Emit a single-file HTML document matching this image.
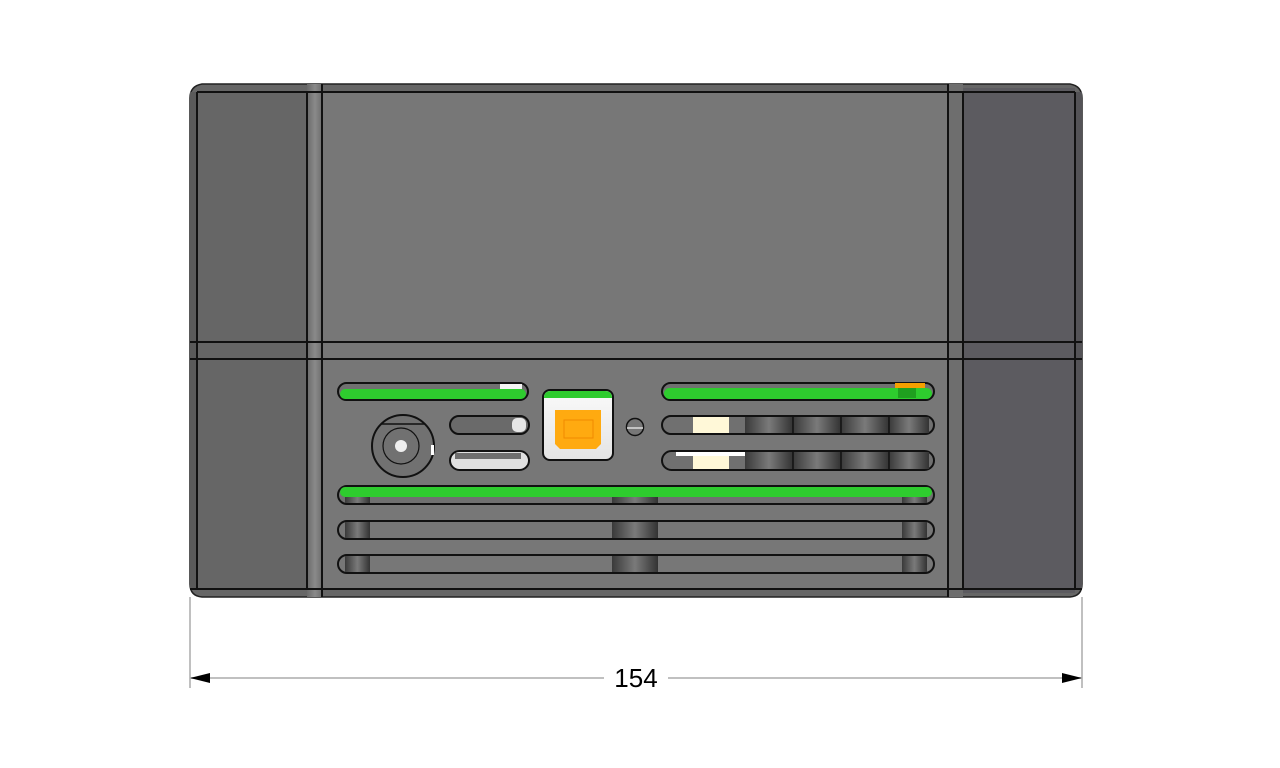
<!DOCTYPE html>
<html><head><meta charset="utf-8"><style>
html,body{margin:0;padding:0;background:#fff;width:1280px;height:768px;overflow:hidden}
svg{display:block}
</style></head><body>
<svg width="1280" height="768" viewBox="0 0 1280 768" xmlns="http://www.w3.org/2000/svg">
<defs>
<linearGradient id="strip" x1="0" x2="1" y1="0" y2="0">
<stop offset="0" stop-color="#6a6a6a"/><stop offset="0.5" stop-color="#8a8a8a"/><stop offset="1" stop-color="#6a6a6a"/></linearGradient>
<linearGradient id="sh" x1="0" x2="1"><stop offset="0" stop-color="#3a3a3a"/><stop offset="0.5" stop-color="#7a7a7a"/><stop offset="1" stop-color="#333"/></linearGradient>
<linearGradient id="usb" x1="0" x2="0" y1="0" y2="1"><stop offset="0" stop-color="#fafafa"/><stop offset="1" stop-color="#e4e4e4"/></linearGradient>
</defs>
<!-- dimension -->
<g stroke="#c0c0c0" stroke-width="2" fill="none">
<line x1="190" y1="597" x2="190" y2="688"/>
<line x1="1082" y1="597" x2="1082" y2="688"/>
<line x1="190" y1="678" x2="604" y2="678"/>
<line x1="668" y1="678" x2="1082" y2="678"/>
</g>
<polygon points="190,678 210,673 210,683" fill="#000"/>
<polygon points="1082,678 1062,673 1062,683" fill="#000"/>
<text x="636" y="687" font-family="Liberation Sans, sans-serif" font-size="26" text-anchor="middle" fill="#000">154</text>

<!-- body -->
<path d="M202,84 L1070,84 Q1082,86 1082,98 L1082,584 Q1082,596 1070,597 L202,597 Q190,596 190,584 L190,98 Q190,86 202,84Z" fill="#666" stroke="#222" stroke-width="1.5"/>
<rect x="197" y="91" width="110" height="497" fill="#666"/>
<rect x="307" y="84" width="16" height="513" fill="url(#strip)"/>
<rect x="323" y="91" width="625" height="497" fill="#777"/>
<rect x="948" y="84" width="15" height="513" fill="#6e6e6e"/>
<rect x="963" y="88" width="112" height="505" fill="#5c5b60"/>
<rect x="1075" y="92" width="7" height="496" fill="#545357"/>
<rect x="190" y="92" width="7" height="496" fill="#5a5a5a"/>
<g stroke="#111" stroke-width="2" fill="none">
<line x1="197" y1="92" x2="197" y2="590"/>
<line x1="307" y1="92" x2="307" y2="590"/>
<line x1="322" y1="84" x2="322" y2="597"/>
<line x1="948" y1="84" x2="948" y2="597"/>
<line x1="963" y1="92" x2="963" y2="590"/>
<line x1="1075" y1="92" x2="1075" y2="590"/>
<line x1="190" y1="342" x2="1082" y2="342"/>
<line x1="190" y1="359" x2="1082" y2="359"/>
<line x1="197" y1="92" x2="1075" y2="92"/>
<line x1="190" y1="589" x2="1082" y2="589"/>
</g>

<!-- slots -->
<g stroke="#111" stroke-width="2">
<!-- row1 left -->
<rect x="338" y="383" width="190" height="17" rx="8.5" fill="#707070"/>
<rect x="340" y="389" width="186" height="10" rx="5" fill="#2ecc2e" stroke="none"/>
<rect x="500" y="384" width="22" height="5" fill="#f4f4f4" stroke="none"/>
<!-- row1 right -->
<rect x="662" y="383" width="272" height="17" rx="8.5" fill="#707070"/>
<rect x="664" y="388" width="268" height="11" rx="5.5" fill="#2ecc2e" stroke="none"/>
<rect x="895" y="383" width="30" height="5" fill="#f5a000" stroke="none"/>
<rect x="898" y="388" width="18" height="10" fill="#1fa01f" stroke="none"/>
<!-- small slots -->
<rect x="450" y="416" width="79" height="18" rx="9" fill="#6a6a6a"/>
<rect x="512" y="418" width="14" height="14" rx="5" fill="#e6e6e6" stroke="none"/>
<rect x="450" y="451" width="79" height="19" rx="9.5" fill="#e0e0e0"/>
<rect x="455" y="453" width="66" height="6" fill="#6e6e6e" stroke="none"/>
<!-- row2/3 right -->
<rect x="662" y="416" width="272" height="18" rx="9" fill="#707070"/>
<rect x="662" y="451" width="272" height="19" rx="9.5" fill="#707070"/>
</g>
<g stroke="none">
<rect x="693" y="417" width="36" height="16" fill="#fff8d8"/>
<rect x="693" y="452" width="36" height="17" fill="#fff8d8"/>
<rect x="676" y="452" width="69" height="4" fill="#fff"/>
<rect x="745" y="417" width="48" height="16" fill="url(#sh)"/>
<rect x="793" y="417" width="48" height="16" fill="url(#sh)"/>
<rect x="841" y="417" width="48" height="16" fill="url(#sh)"/>
<rect x="889" y="417" width="40" height="16" fill="url(#sh)"/>
<rect x="745" y="452" width="48" height="17" fill="url(#sh)"/>
<rect x="793" y="452" width="48" height="17" fill="url(#sh)"/>
<rect x="841" y="452" width="48" height="17" fill="url(#sh)"/>
<rect x="889" y="452" width="40" height="17" fill="url(#sh)"/>
</g>
<g stroke="#111" stroke-width="1.5">
<line x1="793" y1="416" x2="793" y2="434"/><line x1="841" y1="416" x2="841" y2="434"/><line x1="889" y1="416" x2="889" y2="434"/>
<line x1="793" y1="451" x2="793" y2="470"/><line x1="841" y1="451" x2="841" y2="470"/><line x1="889" y1="451" x2="889" y2="470"/>
</g>
<!-- green long row -->
<rect x="338" y="486" width="596" height="18" rx="9" fill="#707070" stroke="#111" stroke-width="2"/>
<rect x="340" y="487" width="592" height="10" rx="5" fill="#2ecc2e"/>
<!-- vent rows -->
<g>
<rect x="338" y="521" width="596" height="18" rx="9" fill="#777" stroke="#111" stroke-width="2"/>
<rect x="345" y="522" width="25" height="16" fill="url(#sh)"/>
<rect x="612" y="522" width="46" height="16" fill="url(#sh)"/>
<rect x="902" y="522" width="25" height="16" fill="url(#sh)"/>
<rect x="338" y="555" width="596" height="18" rx="9" fill="#777" stroke="#111" stroke-width="2"/>
<rect x="345" y="556" width="25" height="16" fill="url(#sh)"/>
<rect x="612" y="556" width="46" height="16" fill="url(#sh)"/>
<rect x="902" y="556" width="25" height="16" fill="url(#sh)"/>
<rect x="345" y="497" width="25" height="6" fill="url(#sh)"/>
<rect x="612" y="497" width="46" height="6" fill="url(#sh)"/>
<rect x="902" y="497" width="25" height="6" fill="url(#sh)"/>
</g>
<!-- USB -->
<rect x="543" y="390" width="70" height="70" rx="7" fill="url(#usb)" stroke="#111" stroke-width="2"/>
<path d="M544,398 Q544,391 551,391 L605,391 Q612,391 612,398 L612,398 L544,398Z" fill="#2ecc2e"/>
<path d="M555,410 L601,410 L601,444 L596,449 L560,449 L555,444Z" fill="#ffaa10"/>
<rect x="564" y="420" width="29" height="18" fill="none" stroke="#f08a00" stroke-width="1"/>
<!-- LED -->
<circle cx="635" cy="427" r="8.5" fill="#777" stroke="#111" stroke-width="1.5"/>
<line x1="627" y1="428" x2="643" y2="428" stroke="#ddd" stroke-width="1.5"/>
<!-- DC jack -->
<circle cx="403" cy="446" r="31" fill="#717171" stroke="#111" stroke-width="2"/>
<path d="M381,424 L425,424" stroke="#111" stroke-width="1.5"/>
<circle cx="401" cy="446" r="18" fill="none" stroke="#111" stroke-width="1.2"/>
<circle cx="401" cy="446" r="6" fill="#eee"/>
<rect x="431" y="445" width="3" height="10" fill="#fff"/>
</svg>
</body></html>
